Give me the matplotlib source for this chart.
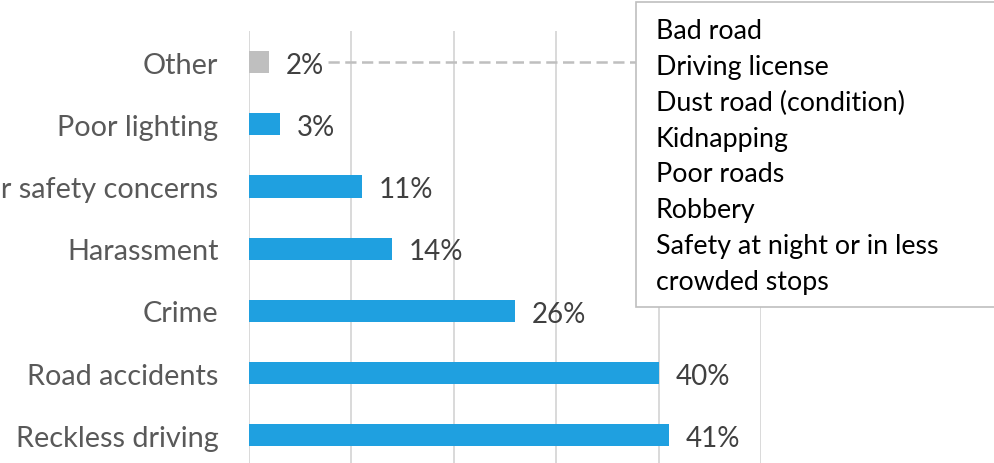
import matplotlib
matplotlib.use("Agg")
import matplotlib.pyplot as plt
from matplotlib.patches import Rectangle

# === DATA ===
categories = ['Reckless driving', 'Road accidents', 'Crime', 'Harassment',
              'Other safety concerns', 'Poor lighting', 'Other']
values = [41, 40, 26, 14, 11, 3, 2]
bar_colors = ['#1FA0E0'] * 6 + ['#BFBFBF']
other_items = ['Bad road', 'Driving license', 'Dust road (condition)', 'Kidnapping',
               'Poor roads', 'Robbery', 'Safety at night or in less', 'crowded stops']

plt.rcParams['font.family'] = ['Lato', 'DejaVu Sans']

W, H = 994, 464
fig = plt.figure(figsize=(W / 100, H / 100), dpi=100)

# axes placed in pixel terms, the chart is cropped at left and bottom
ax_left, ax_right, ax_top = 249, 761, 32
row_h = 62.2
ax_h = row_h * len(categories)
ax = fig.add_axes([ax_left / W, (H - ax_top - ax_h) / H, (ax_right - ax_left) / W, ax_h / H])

y = range(len(categories))
ax.barh(y, values, height=0.36, color=bar_colors, zorder=2)
ax.set_xlim(0, 50)
ax.set_ylim(-0.5, len(categories) - 0.5)

ax.set_xticks(range(0, 51, 10))
ax.grid(axis='x', color='#D9D9D9', linewidth=1.4, zorder=0)
ax.tick_params(axis='x', length=0, labelbottom=False)
ax.tick_params(axis='y', length=0, pad=22, labelsize=20.8, labelcolor='#595959')
ax.set_yticks(list(y))
ax.set_yticklabels(categories)
for s in ax.spines.values():
    s.set_visible(False)

labels = []
for yi, v in zip(y, values):
    t = ax.annotate(f'{v}%', (v, yi), xytext=(12, -2), textcoords='offset points',
                    va='center', ha='left', fontsize=20, color='#404040')
    labels.append(t)

# text box listing the "Other" answers
box_left, box_top, box_bottom = 636, 3, 308
fig.patches.append(Rectangle((box_left / W, (H - box_bottom) / H), (W - box_left + 20) / W,
                             (box_bottom - box_top) / H, transform=fig.transFigure,
                             facecolor='white', edgecolor='#BFBFBF', linewidth=1.2, zorder=5))
fig.text(656 / W, (H - 19) / H, '\n'.join(other_items), ha='left', va='top',
         fontsize=19.3, color='#000000', linespacing=1.54, zorder=6)

# dashed leader line from the "Other" label to the box
fig.canvas.draw()
bb = labels[-1].get_window_extent()
y_px = ax.transData.transform((0, len(categories) - 1))[1]
fig.add_artist(plt.Line2D([(bb.x1 + 4) / W, box_left / W], [y_px / H, y_px / H],
                          transform=fig.transFigure, color='#BFBFBF', linewidth=1.8,
                          linestyle=(0, (4.5, 2.2)), zorder=4))

fig.savefig('out.png', dpi=100)
